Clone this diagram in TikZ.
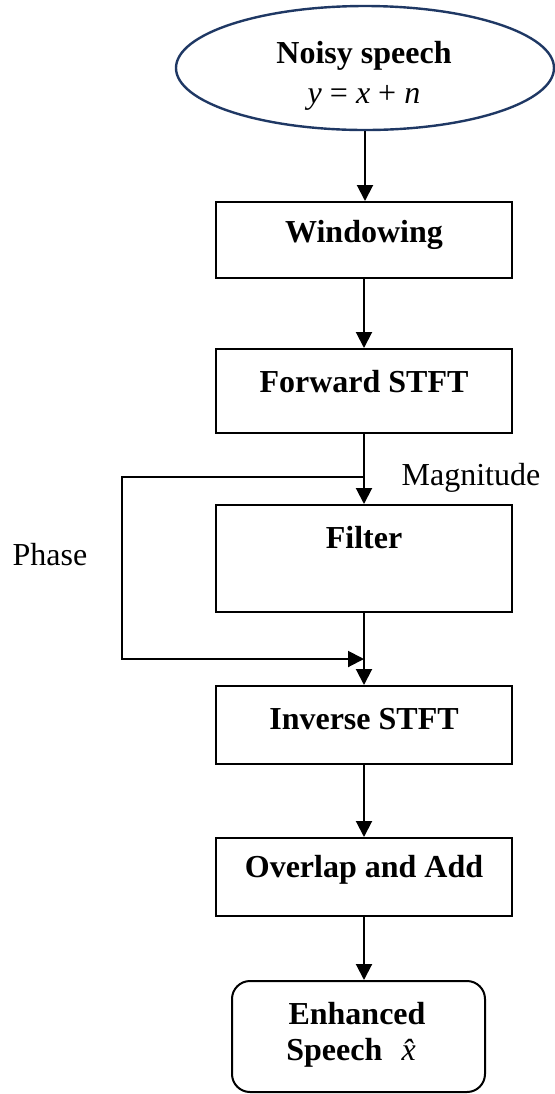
\documentclass[tikz,border=0pt]{standalone}
\usepackage{fontspec}
\setmainfont{Liberation Serif}
\usetikzlibrary{arrows.meta, shapes.geometric}
\definecolor{darknavy}{RGB}{31,56,100}

\begin{document}
\begin{tikzpicture}[x=0.5pt, y=-0.5pt, >={Triangle[width=8pt,length=8pt]},
    flowbox/.style={draw, line width=1pt, minimum width=148pt, inner sep=0pt},
    boxtext/.style={font=\fontsize{16}{20}\selectfont\bfseries, align=center},
    plaintext/.style={font=\fontsize{16}{20}\selectfont},
    flow/.style={->, line width=1pt}]
        \useasboundingbox (0,0) rectangle (555,1094);

        % Input
        \node[draw=darknavy, line width=1.2pt, ellipse, minimum width=189pt, minimum height=62pt] (noisy) at (365,68) {};
        \node[boxtext] (noisytext) at (364,76) {Noisy speech\\ \mdseries\textit{y} = \textit{x} + \textit{n}};

        % Processing blocks
        \node[flowbox, minimum height=38pt] (win) at (364,240) {};
        \node[boxtext] (wintext) at (364,235) {Windowing};
        \node[flowbox, minimum height=42pt] (fwd) at (364,391) {};
        \node[boxtext] (fwdtext) at (364,382) {Forward STFT};
        \node[flowbox, minimum height=53.5pt] (filter) at (364,558.5) {};
        \node[boxtext] (filtertext) at (364,538) {Filter};
        \node[flowbox, minimum height=39pt] (inv) at (364,725) {};
        \node[boxtext] (invtext) at (364,719) {Inverse STFT};
        \node[flowbox, minimum height=39pt] (ola) at (364,877) {};
        \node[boxtext] (olatext) at (364,870) {Overlap and Add};

        % Output
        \node[flowbox, rounded corners=9pt, minimum width=126.5pt, minimum height=55.5pt] (enh) at (358.5,1036.5) {};
        \node[boxtext, font=\fontsize{16}{18}\selectfont\bfseries] (enhtext) at (357,1035) {Enhanced\\ Speech\hspace{0.6em}\mdseries\textit{\^x}};

        % Labels
        \node[plaintext] (maglabel) at (471,478) {Magnitude};
        \node[plaintext] (phaselabel) at (50,555) {Phase};

        % Phase path
        \coordinate (phasesplit) at (364,477);
        \coordinate (phaseleft) at (122,568);
        \coordinate (phasejoin) at (364,659);

        % Connectors
        \draw[flow] (noisy.south) -- (noisy.south |- win.north);
        \draw[flow] (win) -- (fwd);
        \draw[flow] (fwd) -- (filter);
        \draw[flow] (filter) -- (inv);
        \draw[flow] (phasesplit) -| (phaseleft) |- (phasejoin);
        \draw[flow] (inv) -- (ola);
        \draw[flow] (ola.south) -- (ola.south |- enh.north);
    \end{tikzpicture}
\end{document}
